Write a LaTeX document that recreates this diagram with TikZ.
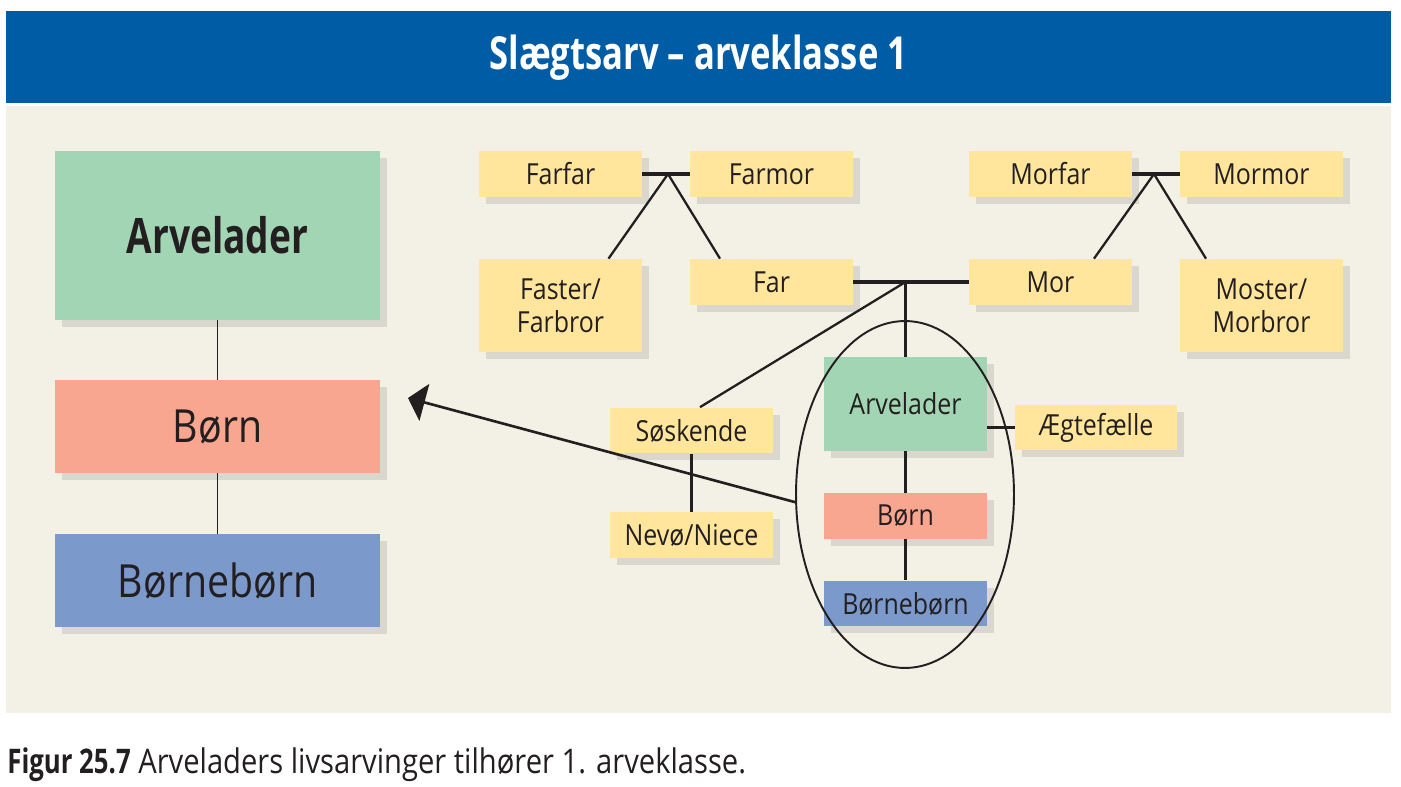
\documentclass[tikz,border=0pt]{standalone}
\usepackage{fontspec}
\setmainfont{Open Sans}[FakeStretch=0.86, BoldFeatures={FakeStretch=0.76}]
\usepackage{xcolor}
\usetikzlibrary{
    shapes.geometric,
    arrows.meta,
    positioning,
    shadows
}

\definecolor{titleblue}{HTML}{005CA5}
\definecolor{panel}{HTML}{F3F1E5}
\definecolor{ink}{HTML}{231F20}
\definecolor{heirgreen}{HTML}{A2D5B3}
\definecolor{childred}{HTML}{F8A690}
\definecolor{grandblue}{HTML}{7B9ACB}
\definecolor{kinyellow}{HTML}{FFE69C}

\begin{document}
\begin{tikzpicture}[
    x=0.02cm, y=-0.02cm,
    box/.style={
        rectangle,
        inner sep=0pt,
        text=ink,
        align=center,
        drop shadow={shadow xshift=0.14cm, shadow yshift=-0.14cm, fill=black!60, opacity=0.18}
    },
    bigbox/.style={box, minimum width=6.5cm, minimum height=1.86cm,
        font=\fontsize{26}{30}\selectfont},
    kin/.style={box, fill=kinyellow, minimum width=3.26cm, minimum height=0.92cm,
        font=\fontsize{16.5}{18.7}\selectfont},
    heir/.style={box, minimum width=3.26cm, minimum height=0.92cm,
        font=\fontsize{16.5}{18.7}\selectfont},
    link/.style={draw=ink, line width=1.3pt},
    couple/.style={draw=ink, line width=2.1pt},
    stem/.style={draw=ink, line width=0.9pt},
    arrow/.style={-{Triangle[length=0.34cm, width=0.76cm]}, draw=ink, fill=ink, line width=1.5pt}
]

\useasboundingbox (0,0) rectangle (1401,787);
\fill[white] (0,0) rectangle (1401,787);

% Title
\fill[titleblue] (6,11) rectangle (1391,103);
\node[text=white, font=\fontsize{25.9}{29}\selectfont\bfseries] (title) at (698.5,58) {Slægtsarv – arveklasse 1};

% Panel
\fill[panel] (6,106) rectangle (1391,713);

% Left column
\node[bigbox, fill=heirgreen, minimum height=3.38cm, font=\fontsize{27.8}{32}\selectfont\bfseries] (bigarv) at (217.5,235.5) {Arvelader};
\node[bigbox, fill=childred] (bigborn) at (217.5,426.5) {Børn};
\node[bigbox, fill=grandblue] (bigbb) at (217.5,580.5) {Børnebørn};
\draw[stem] (bigarv.south) -- (bigborn.north);
\draw[stem] (bigborn.south) -- (bigbb.north);

% Father's side
\node[kin] (farfar) at (560.5,174) {Farfar};
\node[kin] (farmor) at (771.5,174) {Farmor};
\node[kin, minimum height=1.86cm] (faster) at (560.5,305.5) {Faster/\\Farbror};
\node[kin] (far) at (771.5,282) {Far};

% Mother's side
\node[kin] (morfar) at (1050.5,174) {Morfar};
\node[kin] (mormor) at (1261.5,174) {Mormor};
\node[kin] (mor) at (1050.5,282) {Mor};
\node[kin, minimum height=1.86cm] (moster) at (1261.5,305.5) {Moster/\\Morbror};

% Heir and descendants
\node[heir, fill=heirgreen, minimum height=1.88cm] (arv) at (905.5,404) {Arvelader};
\node[heir, fill=childred] (born) at (905.5,516) {Børn};
\node[heir, fill=grandblue] (bb) at (905.5,603.5) {Børnebørn};
\node[kin, minimum width=3.24cm] (aegte) at (1096,427.5) {Ægtefælle};
\node[kin] (soskende) at (691.5,430.5) {Søskende};
\node[kin] (nevo) at (691.5,535) {Nevø/Niece};

% Junctions
\coordinate (jfar) at (668,174);
\coordinate (jmor) at (1154,174);
\coordinate (jpar) at (far.east -| arv.north);
\coordinate (tip) at (408,398);

% Family lines
\draw[couple] (farfar.east) -- (farmor.west);
\draw[link] (jfar) -- ([xshift=0.96cm]faster.north);
\draw[link] (jfar) -- ([xshift=-1.03cm]far.north);
\draw[couple] (morfar.east) -- (mormor.west);
\draw[link] (jmor) -- ([xshift=0.87cm]mor.north);
\draw[link] (jmor) -- ([xshift=-1.11cm]moster.north);
\draw[couple, line width=2.4pt] (far.east) -- (mor.west);
\draw[couple] (jpar) -- (arv.north);
\draw[link] (jpar) -- ([xshift=0.17cm]soskende.north);
\draw[couple] (soskende.south) -- (nevo.north);
\draw[couple] (arv.south) -- (born.north);
\draw[couple] (born.south) -- (bb.north);
\draw[couple] (aegte.west -| arv.east) -- (aegte.west);

% Ring round the heirs
\node[ellipse, draw=ink, line width=1.1pt, inner sep=0pt, minimum width=4.36cm, minimum height=6.94cm] (ring) at (905,494.5) {};
\draw[arrow] (ring.184) -- (tip);

% Caption
\node[anchor=base west, inner sep=0pt, text=ink, font=\fontsize{19.3}{22}\selectfont] (caption) at (7,773) {\textbf{Figur 25.7} Arveladers livsarvinger tilhører 1. arveklasse.};

\end{tikzpicture}
\end{document}
